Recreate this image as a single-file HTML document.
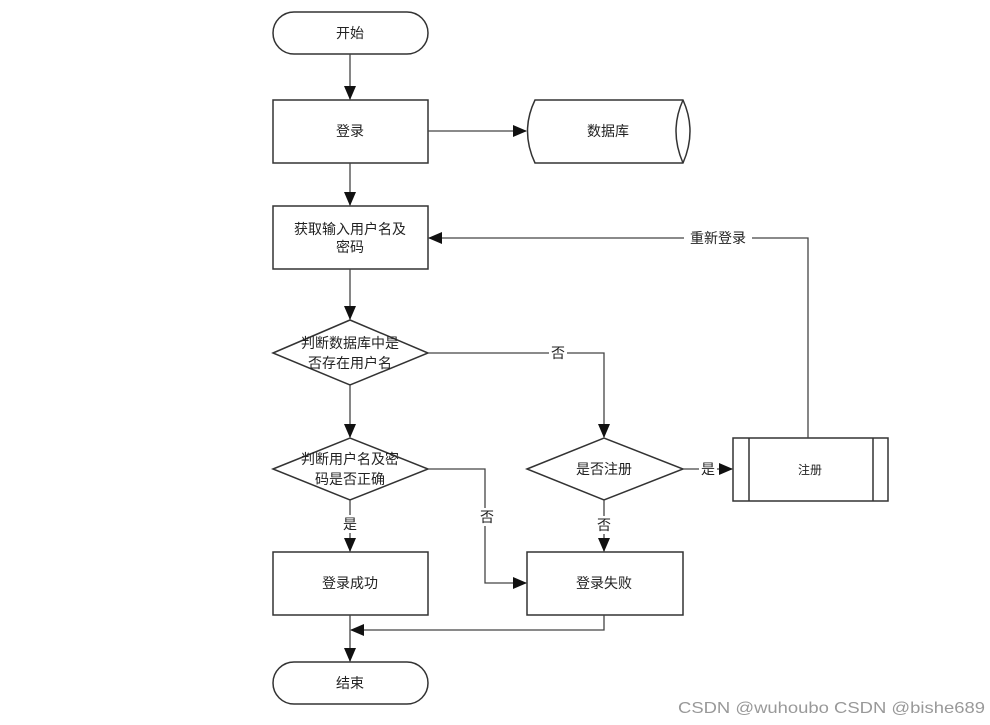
<!DOCTYPE html>
<html><head><meta charset="utf-8"><style>
html,body{margin:0;padding:0;background:#fff;}
svg{display:block;}
text{font-family:"Liberation Sans","Noto Sans CJK SC",sans-serif;font-size:14px;fill:#222;}
</style></head><body>
<svg width="990" height="725" viewBox="0 0 990 725" xmlns="http://www.w3.org/2000/svg">
<defs><marker id="a" markerWidth="14" markerHeight="12" refX="13" refY="6" orient="auto" markerUnits="userSpaceOnUse"><path d="M0,0 L14,6 L0,12 Z" fill="#111"/></marker></defs>
<rect width="990" height="725" fill="#fff"/>
<g fill="none" stroke="#333" stroke-width="1.5">
<rect x="273" y="12" width="155" height="42" rx="21"/>
<rect x="273" y="100" width="155" height="63"/>
<path d="M535,100 L683,100 Q697,131 683,163 L535,163 Q520,131 535,100 Z"/>
<path d="M683,100 Q669,131 683,163"/>
<rect x="273" y="206" width="155" height="63"/>
<polygon points="273,353 350,320 428,353 350,385"/>
<polygon points="273,469 350,438 428,469 350,500"/>
<polygon points="527,469 604,438 683,469 604,500"/>
<rect x="733" y="438" width="155" height="63"/>
<line x1="749" y1="438" x2="749" y2="501"/>
<line x1="873" y1="438" x2="873" y2="501"/>
<rect x="273" y="552" width="155" height="63"/>
<rect x="527" y="552" width="156" height="63"/>
<rect x="273" y="662" width="155" height="42" rx="21"/>
</g>
<g fill="none" stroke="#444" stroke-width="1.3">
<line x1="350" y1="54" x2="350" y2="99" marker-end="url(#a)"/>
<line x1="428" y1="131" x2="526" y2="131" marker-end="url(#a)"/>
<line x1="350" y1="163" x2="350" y2="205" marker-end="url(#a)"/>
<line x1="350" y1="269" x2="350" y2="319" marker-end="url(#a)"/>
<line x1="350" y1="385" x2="350" y2="437" marker-end="url(#a)"/>
<polyline points="428,353 604,353 604,437" marker-end="url(#a)"/>
<polyline points="808,438 808,238 429,238" marker-end="url(#a)"/>
<line x1="683" y1="469" x2="732" y2="469" marker-end="url(#a)"/>
<polyline points="428,469 485,469 485,583 526,583" marker-end="url(#a)"/>
<line x1="350" y1="500" x2="350" y2="551" marker-end="url(#a)"/>
<line x1="604" y1="500" x2="604" y2="551" marker-end="url(#a)"/>
<polyline points="604,615 604,630 351,630" marker-end="url(#a)"/>
<line x1="350" y1="615" x2="350" y2="661" marker-end="url(#a)"/>
</g>
<g fill="#fff">
<rect x="684" y="229" width="68" height="18"/>
<rect x="549" y="344" width="18" height="18"/>
<rect x="699" y="460" width="18" height="18"/>
<rect x="478" y="508" width="18" height="18"/>
<rect x="341" y="515" width="18" height="18"/>
<rect x="595" y="516" width="18" height="18"/>
</g>
<g text-anchor="middle">
<text x="350" y="38">开始</text>
<text x="350" y="136">登录</text>
<text x="608" y="136">数据库</text>
<text x="350" y="234">获取输入用户名及</text>
<text x="350" y="252">密码</text>
<text x="350" y="348">判断数据库中是</text>
<text x="350" y="368">否存在用户名</text>
<text x="350" y="464">判断用户名及密</text>
<text x="350" y="484">码是否正确</text>
<text x="604" y="474">是否注册</text>
<text x="810" y="474" style="font-size:12px">注册</text>
<text x="350" y="588">登录成功</text>
<text x="604" y="588">登录失败</text>
<text x="350" y="688">结束</text>
<text x="718" y="243">重新登录</text>
<text x="558" y="358">否</text>
<text x="708" y="474">是</text>
<text x="487" y="522">否</text>
<text x="350" y="529">是</text>
<text x="604" y="530">否</text>
</g>
<text x="678" y="713" textLength="307" lengthAdjust="spacingAndGlyphs" style="font-size:16px;fill:#999">CSDN @wuhoubo CSDN @bishe689</text>
</svg>
</body></html>
